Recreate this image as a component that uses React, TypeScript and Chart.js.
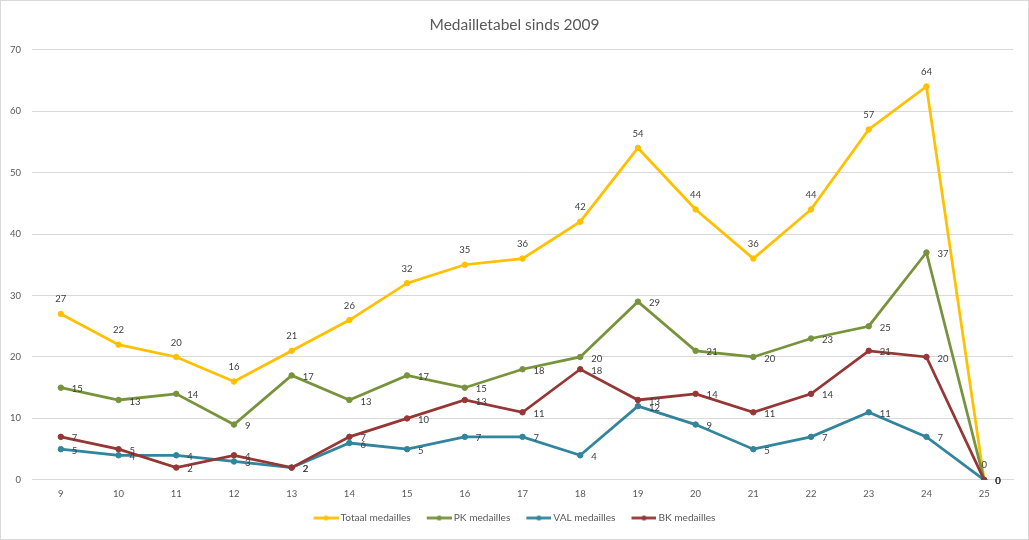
import { useEffect, useRef } from "react";
import { Chart, registerables } from "chart.js";

Chart.register(...registerables);

const categories = ["9", "10", "11", "12", "13", "14", "15", "16", "17", "18", "19", "20", "21", "22", "23", "24", "25"];
const totaal = [27, 22, 20, 16, 21, 26, 32, 35, 36, 42, 54, 44, 36, 44, 57, 64, 0];
const pk = [15, 13, 14, 9, 17, 13, 17, 15, 18, 20, 29, 21, 20, 23, 25, 37, 0];
const val = [5, 4, 4, 3, 2, 6, 5, 7, 7, 4, 12, 9, 5, 7, 11, 7, 0];
const bk = [7, 5, 2, 4, 2, 7, 10, 13, 11, 18, 13, 14, 11, 14, 21, 20, 0];

const seriesNames = ["Totaal medailles", "PK medailles", "VAL medailles", "BK medailles"];
const seriesColors = ["#FFC000", "#77933C", "#31859C", "#953735"];
const titleText = "Medailletabel sinds 2009";
const yMax = 70;
const yStep = 10;

const FONT = "Lato";

function legendImage(color: string) {
  const c = document.createElement("canvas");
  c.width = 28;
  c.height = 7;
  const g = c.getContext("2d")!;
  g.strokeStyle = color;
  g.lineWidth = 2.75;
  g.beginPath();
  g.moveTo(3, 3.5);
  g.lineTo(28, 3.5);
  g.stroke();
  g.fillStyle = color;
  g.beginPath();
  g.arc(15.5, 3.5, 2.5, 0, Math.PI * 2);
  g.fill();
  return c;
}

const labelPlugin = {
  id: "valueLabels",
  afterDatasetsDraw(chart: any) {
    const ctx = chart.ctx;
    ctx.save();
    ctx.font = `9.5px ${FONT}`;
    ctx.fillStyle = "#404040";
    ctx.textBaseline = "middle";
    chart.data.datasets.forEach((ds: any, di: number) => {
      const meta = chart.getDatasetMeta(di);
      meta.data.forEach((pt: any, i: number) => {
        const v = ds.data[i];
        if (di === 0) {
          ctx.textAlign = "center";
          ctx.fillText(String(v), pt.x, pt.y - 14.5);
        } else {
          ctx.textAlign = "left";
          ctx.fillText(String(v), pt.x + 11, pt.y + 1.5);
        }
      });
    });
    ctx.restore();
  },
};

export default function App() {
  const ref = useRef<HTMLCanvasElement>(null);

  useEffect(() => {
    if (!ref.current) return;
    const seriesData = [totaal, pk, val, bk];
    const chart = new Chart(ref.current, {
      type: "line",
      data: {
        labels: categories,
        datasets: seriesData.map((d, i) => ({
          label: seriesNames[i],
          data: d,
          borderColor: seriesColors[i],
          backgroundColor: seriesColors[i],
          pointBackgroundColor: seriesColors[i],
          pointBorderColor: seriesColors[i],
          borderWidth: 2.75,
          pointRadius: 2.75,
          pointBorderWidth: 1,
          tension: 0,
          fill: false,
          order: 4 - i,
        })),
      },
      options: {
        responsive: false,
        animation: false,
        devicePixelRatio: 1,
        layout: { padding: { left: 0, right: 0, top: 0, bottom: 6 } },
        plugins: {
          tooltip: { enabled: false },
          title: {
            display: true,
            text: titleText,
            color: "#595959",
            font: { family: FONT, size: 15.5, weight: "normal" },
            padding: { top: 15, bottom: 15 },
          },
          legend: {
            position: "bottom",
            labels: {
              color: "#595959",
              font: { family: FONT, size: 10.1 },
              usePointStyle: true,
              pointStyleWidth: 22,
              padding: 16,
              sort: (a: any, b: any) => a.datasetIndex - b.datasetIndex,
              generateLabels: (ch: any) => {
                const items = (Chart.defaults.plugins.legend.labels as any).generateLabels(ch);
                items.forEach((it: any) => {
                  it.pointStyle = legendImage(seriesColors[it.datasetIndex]);
                });
                return items;
              },
            },
          },
        },
        scales: {
          x: {
            offset: true,
            grid: { display: false, drawTicks: false },
            border: { display: true, color: "#d9d9d9", width: 1 },
            ticks: {
              color: "#595959",
              font: { family: FONT, size: 9.5 },
              padding: 8,
              maxRotation: 0,
              autoSkip: false,
            },
            afterFit: (s: any) => {
              s.height = 17;
            },
          },
          y: {
            min: 0,
            max: yMax,
            grid: { color: "#d9d9d9", drawTicks: false, tickLength: 0 },
            border: { display: false },
            ticks: {
              stepSize: yStep,
              color: "#595959",
              font: { family: FONT, size: 9.5 },
              padding: 11,
            },
            afterFit: (s: any) => {
              s.width = 31;
            },
          },
          yRightSpace: {
            position: "right",
            min: 0,
            max: yMax,
            grid: { display: false, drawTicks: false },
            border: { display: false },
            ticks: { display: false },
            afterFit: (s: any) => {
              s.width = 15;
            },
          },
        },
      },
      plugins: [labelPlugin],
    });
    return () => chart.destroy();
  }, []);

  return (
    <div
      style={{
        position: "fixed",
        left: 0,
        top: 0,
        width: 1027,
        height: 538,
        border: "1px solid #d9d9d9",
        background: "#fff",
      }}
    >
      <canvas ref={ref} width={1027} height={538} style={{ display: "block" }} />
    </div>
  );
}
